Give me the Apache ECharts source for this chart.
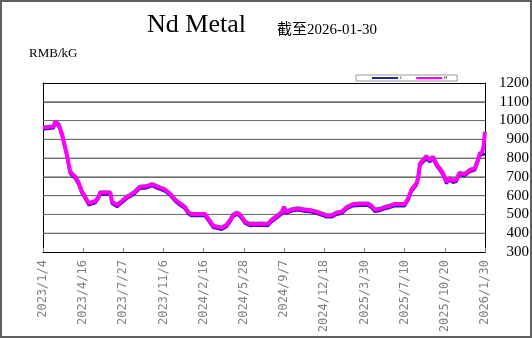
<!DOCTYPE html>
<html>
<head>
<meta charset="utf-8">
<script src="https://cdn.jsdelivr.net/npm/echarts@6/dist/echarts.min.js"></script>
<style>
html,body{margin:0;padding:0;background:#fff;}
#wrap{position:relative;width:532px;height:338px;}
#chart{position:absolute;left:0;top:0;width:532px;height:338px;}
#frame{position:absolute;left:0;top:0;width:532px;height:338px;box-sizing:border-box;border:2px solid #606060;pointer-events:none;}
</style>
</head>
<body>
<div id="wrap"><div id="chart"></div><div id="frame"></div></div>
<script>
// ---- data ----
const startDate = '2023-01-04';
const endDate = '2026-01-30';
const dates = [
'2023-01-04','2023-01-31','2023-02-04','2023-02-13','2023-02-21','2023-03-06','2023-03-14','2023-03-19','2023-03-27','2023-04-04',
'2023-04-13','2023-04-21','2023-04-30','2023-05-04','2023-05-17','2023-05-25','2023-05-29','2023-06-24','2023-06-28','2023-07-11',
'2023-07-23','2023-08-05','2023-08-13','2023-08-25','2023-09-07','2023-09-24','2023-10-08','2023-10-23','2023-11-09','2023-11-22',
'2023-12-05','2023-12-17','2023-12-30','2024-01-07','2024-01-15','2024-02-19','2024-02-27','2024-03-11','2024-03-16','2024-04-02',
'2024-04-14','2024-04-23','2024-05-01','2024-05-10','2024-05-18','2024-05-31','2024-06-12','2024-07-03','2024-07-28','2024-08-06',
'2024-08-23','2024-09-01','2024-09-07','2024-09-13','2024-09-26','2024-10-13','2024-10-30','2024-11-12','2024-11-29','2024-12-07',
'2024-12-24','2025-01-06','2025-01-18','2025-01-31','2025-02-13','2025-03-01','2025-03-18','2025-04-08','2025-04-17','2025-04-25',
'2025-05-08','2025-05-21','2025-06-02','2025-06-15','2025-07-10','2025-07-19','2025-07-27','2025-08-09','2025-08-13','2025-08-18',
'2025-08-26','2025-09-03','2025-09-12','2025-09-20','2025-09-29','2025-10-07','2025-10-15','2025-10-24','2025-11-01','2025-11-10',
'2025-11-18','2025-11-26','2025-12-09','2025-12-22','2026-01-04','2026-01-12','2026-01-17','2026-01-23','2026-01-26','2026-01-30'
];
const highValues = [
963,970,995,980,931,816,728,720,701,671,
622,595,560,551,572,595,618,618,568,551,
572,595,604,622,648,651,662,648,634,613,
581,560,542,515,503,503,480,440,430,430,
445,471,500,510,500,462,450,452,450,471,
498,512,540,515,528,533,526,524,515,509,
496,496,510,515,539,555,558,558,546,526,
530,540,546,556,555,586,631,666,693,772,
790,811,790,808,769,746,722,675,693,680,
685,722,715,737,746,790,825,833,860,940
];
const lowValues = [
953,960,985,970,921,806,718,710,691,661,
612,585,550,541,562,585,608,608,558,541,
562,585,594,612,638,641,652,638,624,603,
571,550,532,505,493,493,470,430,420,420,
435,461,490,500,490,452,440,442,440,461,
488,502,520,505,518,523,516,514,505,499,
486,486,500,505,529,545,548,548,536,516,
520,530,536,546,545,576,621,656,683,762,
780,795,780,795,759,736,712,665,683,670,
675,712,705,727,736,780,812,820,822,820
];
const seriesNames = ['L', 'H'];
const yTicks = {min: 300, max: 1200, step: 100};
const xTickStepDays = 102;
const titleText = 'Nd Metal';
const subTitleText = '截至2026-01-30';
const unitText = 'RMB/kG';

// ---- helpers ----
const DAY = 86400000;
function toUTC(s){ const p = s.split('-').map(Number); return Date.UTC(p[0], p[1]-1, p[2]); }
const t0 = toUTC(startDate);
function dayOffset(s){ return Math.round((toUTC(s) - t0) / DAY); }
const totalDays = dayOffset(endDate);
function fmtDay(v){
  const d = new Date(t0 + v * DAY);
  return d.getUTCFullYear() + '/' + (d.getUTCMonth()+1) + '/' + d.getUTCDate();
}
const highData = dates.map((d,i)=>[dayOffset(d), highValues[i]]);
const lowData = dates.map((d,i)=>[dayOffset(d), lowValues[i]]);

// horizontal gridlines drawn as plain line series through the axis scales
const gridSeries = [];
for (let v = yTicks.min + yTicks.step; v < yTicks.max; v += yTicks.step) {
  gridSeries.push({
    name: 'grid' + v, type: 'line', data: [[0, v], [totalDays, v]],
    showSymbol: false, symbol: 'none', silent: true, z: 1,
    lineStyle: {color: '#6e6e6e', width: 1, type: 'solid'},
    emphasis: {disabled: true}, tooltip: {show: false}
  });
}

const chart = echarts.init(document.getElementById('chart'), null, {renderer:'canvas'});
chart.setOption({
  animation: false,
  backgroundColor: '#fff',
  title: [
    {text: titleText, left: 147, top: 12, padding: 0,
     textStyle: {fontFamily: '"Liberation Serif"', fontSize: 26, fontWeight: 'normal', color: '#000'}},
    {text: subTitleText, left: 277, top: 23, padding: 0,
     textStyle: {fontFamily: '"Liberation Serif", "Noto Sans CJK SC"', fontSize: 15, fontWeight: 'normal', color: '#000'}},
    {text: unitText, left: 29, top: 47, padding: 0,
     textStyle: {fontFamily: '"Liberation Serif"', fontSize: 13, fontWeight: 'normal', color: '#000'}}
  ],
  legend: {
    left: 356, top: 75,
    data: seriesNames,
    orient: 'horizontal',
    icon: 'rect',
    itemWidth: 26, itemHeight: 2,
    itemGap: 14,
    padding: [1, 10, 1, 16],
    backgroundColor: '#fff',
    borderColor: '#999',
    borderWidth: 1,
    textStyle: {fontSize: 4, color: '#000', padding: [0,0,0,-3]}
  },
  grid: {
    left: 43, right: 47, top: 83, bottom: 86
  },
  xAxis: [{
    type: 'value',
    min: 0, max: totalDays, interval: xTickStepDays,
    axisLine: {show: true, lineStyle: {color: '#000', width: 1}},
    axisTick: {show: true, inside: true, length: 4, lineStyle: {color: '#808080'}},
    splitLine: {show: false},
    axisLabel: {
      rotate: 90, margin: 8, color: '#808080',
      fontFamily: '"DejaVu Sans Mono"', fontSize: 12,
      formatter: fmtDay, showMinLabel: true, showMaxLabel: true
    }
  }, {
    type: 'value', position: 'top',
    min: 0, max: totalDays, interval: xTickStepDays,
    axisLine: {show: true, onZero: false, lineStyle: {color: '#000', width: 1}},
    axisTick: {show: false}, axisLabel: {show: false}, splitLine: {show: false}
  }],
  yAxis: [{
    type: 'value', position: 'right',
    min: yTicks.min, max: yTicks.max, interval: yTicks.step,
    axisLine: {show: true, onZero: false, lineStyle: {color: '#000'}},
    axisTick: {show: false},
    splitLine: {show: true, lineStyle: {color: '#6e6e6e', width: 1, type: 'solid'}},
    axisLabel: {
      color: '#000', fontFamily: '"Liberation Serif"', fontSize: 15,
      align: 'right', margin: 44,
      formatter: function(v){ return String(v); }
    }
  }, {
    type: 'value', position: 'left',
    min: yTicks.min, max: yTicks.max, interval: yTicks.step,
    axisLine: {show: true, onZero: false, lineStyle: {color: '#000'}},
    axisTick: {show: false}, axisLabel: {show: false}, splitLine: {show: false}
  }],
  series: gridSeries.concat([
    {name: seriesNames[0], type: 'line', data: lowData, showSymbol: false, symbol: 'none',
     lineStyle: {color: '#27288f', width: 3}, itemStyle: {color: '#27288f'}, z: 2},
    {name: seriesNames[1], type: 'line', data: highData, showSymbol: false, symbol: 'none',
     lineStyle: {color: '#ff00ff', width: 4}, itemStyle: {color: '#ff00ff'}, z: 3}
  ])
});
</script>
</body>
</html>
